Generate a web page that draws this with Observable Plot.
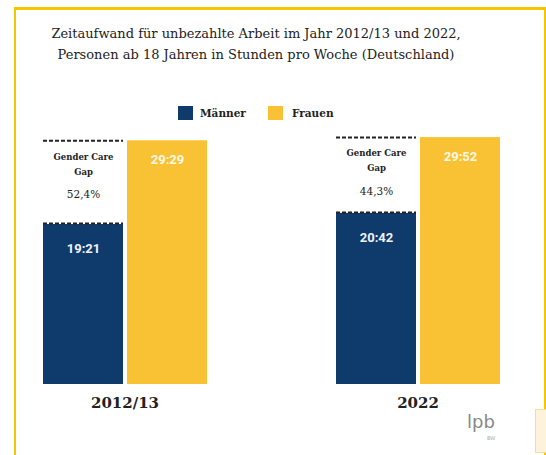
<!DOCTYPE html>
<html>
<head>
<meta charset="utf-8">
<script src="https://cdn.jsdelivr.net/npm/d3@7"></script>
<script src="https://cdn.jsdelivr.net/npm/@observablehq/plot@0.6"></script>
<style>
  html, body { margin: 0; padding: 0; background: #fff; }
  #root { position: relative; width: 546px; height: 455px; overflow: hidden; background: #fff; }
  #frame { position: absolute; left: 14px; top: 7px; width: 532px; height: 470px; box-sizing: border-box;
           border-left: 2px solid #f7c400; border-top: 3px solid #f7c400; border-right: 2px solid #f7c400; }
  #header { position: relative; height: 125px; }
  #title { position: absolute; left: 0; top: 23px; width: 512px; text-align: center;
           font-family: "DejaVu Serif", serif; font-size: 13px; line-height: 21px; color: #222; }
  .sw { position: absolute; width: 15px; height: 14px; }
  .lg { position: absolute; font-family: "DejaVu Serif", serif; font-weight: bold; font-size: 10.5px; color: #222; line-height: 14px; }
  #chart { position: absolute; left: 0; top: 125px; }
  #logo { position: absolute; left: 467px; top: 411px; font-family: "DejaVu Sans", sans-serif; font-size: 18px; color: #888; }
  #bw { position: absolute; left: 487px; top: 435px; font-family: "DejaVu Sans", sans-serif; font-size: 5px; color: #aaa; }
  #deco { position: absolute; left: 535px; top: 409px; width: 14px; height: 44px; box-sizing: border-box;
          background: #fdf3da; border: 1px solid #f5dc9a; }
</style>
</head>
<body>
<div id="root">
  <div id="frame"></div>
  <div id="header">
    <div id="title">Zeitaufwand für unbezahlte Arbeit im Jahr 2012/13 und 2022,<br>Personen ab 18 Jahren in Stunden pro Woche (Deutschland)</div>
  </div>
  <div id="chart"></div>
  <div id="logo">lpb</div>
  <div id="bw">BW</div>
  <div id="deco"></div>
</div>
<script>
const years = ["2012/13", "2022"];
const genders = ["Männer", "Frauen"];
const colors = ["#0f3a6c", "#f8c234"];
const hoursMen = [19 + 21 / 60, 20 + 42 / 60];
const hoursWomen = [29 + 29 / 60, 29 + 52 / 60];
const labelsMen = ["19:21", "20:42"];
const labelsWomen = ["29:29", "29:52"];
const gapLabels = ["52,4%", "44,3%"];

// legend
const header = document.getElementById("header");
const legendPos = [[178, 200], [268, 292]];
genders.forEach((g, i) => {
  const sw = document.createElement("div");
  sw.className = "sw";
  sw.style.left = legendPos[i][0] + "px";
  sw.style.top = "106px";
  sw.style.background = colors[i];
  header.appendChild(sw);
  const t = document.createElement("div");
  t.className = "lg";
  t.style.left = legendPos[i][1] + "px";
  t.style.top = "106px";
  t.textContent = g;
  header.appendChild(t);
});

const bars = [];
years.forEach((y, i) => {
  bars.push({year: y, gender: "Männer", value: hoursMen[i], label: labelsMen[i]});
  bars.push({year: y, gender: "Frauen", value: hoursWomen[i], label: labelsWomen[i]});
});
const gaps = years.map((y, i) => ({year: y, men: hoursMen[i], women: hoursWomen[i], gap: gapLabels[i]}));

const serif = "DejaVu Serif, serif";
const chart = Plot.plot({
  width: 546,
  height: 330,
  marginTop: 11,
  marginBottom: 71,
  marginLeft: 41,
  marginRight: 46,
  style: {background: "transparent", overflow: "visible"},
  fx: {domain: years, paddingInner: 0.437, paddingOuter: 0, label: null},
  x: {domain: genders, paddingInner: 0.05, paddingOuter: 0, axis: null},
  y: {domain: [0, 30], axis: null},
  color: {domain: genders, range: colors},
  marks: [
    Plot.barY(bars, {fx: "year", x: "gender", y: "value", fill: "gender"}),
    Plot.tickY(gaps, {fx: "year", x: () => "Männer", y: "women", stroke: "#222", strokeWidth: 2, strokeDasharray: "4,2"}),
    Plot.tickY(gaps, {fx: "year", x: () => "Männer", y: "men", stroke: "#222", strokeWidth: 2, strokeDasharray: "4,2", dy: -1}),
    Plot.text(gaps, {fx: "year", x: () => "Männer", y: "women", text: () => "Gender Care", dy: 16, fontFamily: serif, fontWeight: "bold", fontSize: 8.5, fill: "#222"}),
    Plot.text(gaps, {fx: "year", x: () => "Männer", y: "women", text: () => "Gap", dy: 31, fontFamily: serif, fontWeight: "bold", fontSize: 8.5, fill: "#222"}),
    Plot.text(gaps, {fx: "year", x: () => "Männer", y: "women", text: "gap", dy: 54, fontFamily: serif, fontSize: 10.5, fill: "#222"}),
    Plot.text(bars.filter(d => d.gender === "Männer"), {fx: "year", x: "gender", y: "value", text: "label", dy: 24, fontFamily: "Roboto, sans-serif", fontWeight: "bold", fontSize: 13, fill: "#eef2f8"}),
    Plot.text(bars.filter(d => d.gender === "Frauen"), {fx: "year", x: "gender", y: "value", text: "label", dy: 19, fontFamily: "Roboto, sans-serif", fontWeight: "bold", fontSize: 13, fill: "#fff8e6"}),
    Plot.axisFx({anchor: "bottom", tickSize: 0, tickPadding: 13, label: null, fontFamily: serif, fontWeight: "bold", fontSize: 15, fill: "#222"})
  ]
});
document.getElementById("chart").appendChild(chart);
</script>
</body>
</html>
